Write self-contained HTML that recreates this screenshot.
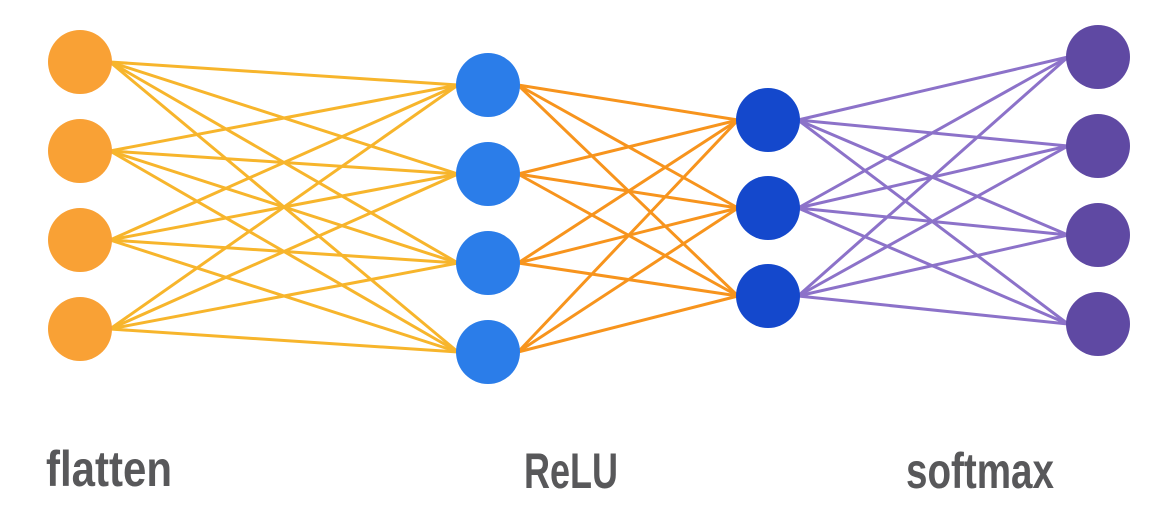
<!DOCTYPE html>
<html><head><style>
html,body{margin:0;padding:0;background:#fff;width:1175px;height:505px;overflow:hidden}
svg{display:block}
text{font-family:"Liberation Sans Narrow","Liberation Sans",sans-serif;font-weight:bold;fill:#58585a}
</style></head><body>
<svg width="1175" height="505" xmlns="http://www.w3.org/2000/svg">
<g id="l1" stroke="#f7b52c" stroke-width="3"></g>
<g id="l2" stroke="#f7941d" stroke-width="3"></g>
<g id="l3" stroke="#8c72c9" stroke-width="3"></g>
<g id="n"></g>
<text x="46" y="486" font-size="50" textLength="126" lengthAdjust="spacingAndGlyphs">flatten</text>
<text x="524" y="488" font-size="50" textLength="94" lengthAdjust="spacingAndGlyphs">ReLU</text>
<text x="906" y="488" font-size="50" textLength="148" lengthAdjust="spacingAndGlyphs">softmax</text>
</svg>
<script>
var A={x:80,ys:[62,151,240,329],c:"#f9a135"},B={x:488,ys:[85,174,263,352],c:"#2b7de9"},C={x:768,ys:[120,208,296],c:"#1448cc"},D={x:1098,ys:[57,146,235,324],c:"#5f49a3"};
var ns="http://www.w3.org/2000/svg",r=32;
function link(g,P,Q){var el=document.getElementById(g);P.ys.forEach(function(a){Q.ys.forEach(function(b){var l=document.createElementNS(ns,"line");l.setAttribute("x1",P.x+r-2);l.setAttribute("y1",a);l.setAttribute("x2",Q.x-r+2);l.setAttribute("y2",b);el.appendChild(l);});});}
link("l1",A,B);link("l2",B,C);link("l3",C,D);
var n=document.getElementById("n");
[A,B,C,D].forEach(function(L){L.ys.forEach(function(y){var c=document.createElementNS(ns,"circle");c.setAttribute("cx",L.x);c.setAttribute("cy",y);c.setAttribute("r",r);c.setAttribute("fill",L.c);n.appendChild(c);});});
</script>
</body></html>
